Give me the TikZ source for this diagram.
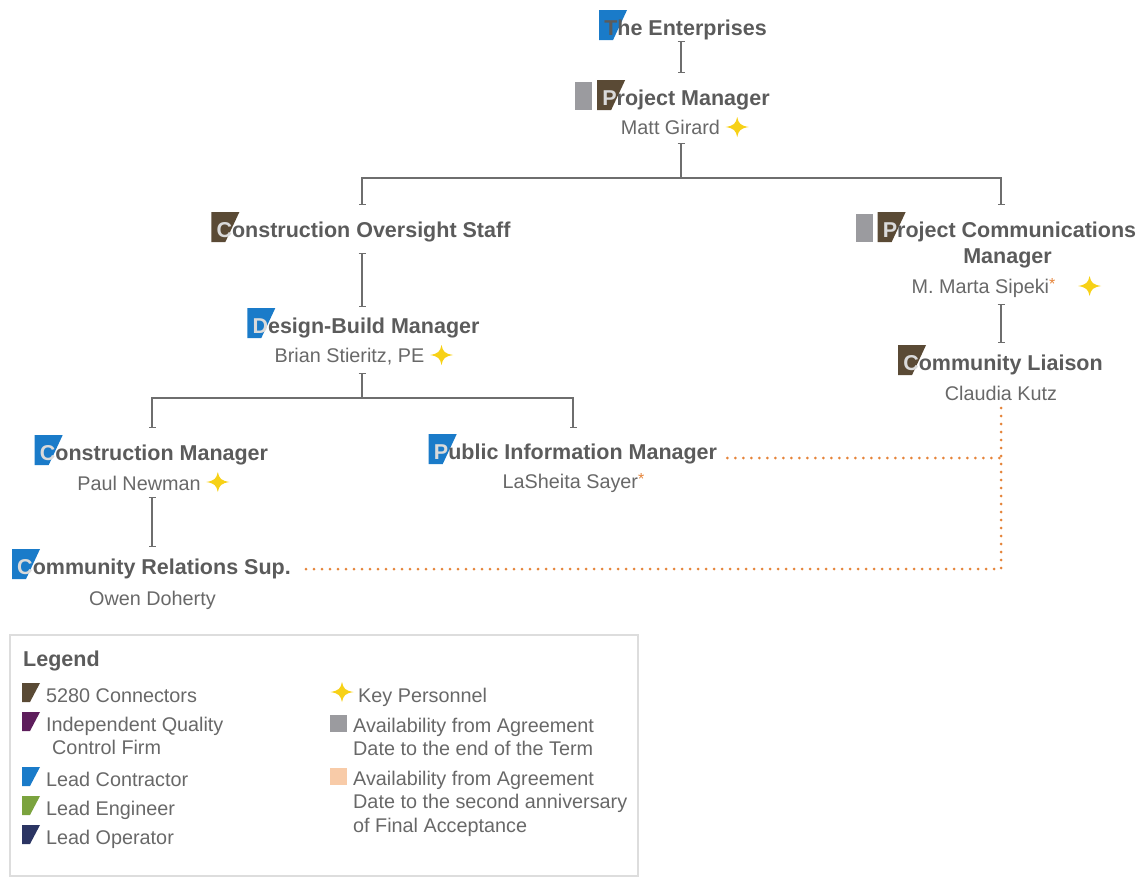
\documentclass[tikz,border=0pt]{standalone}
\usepackage{fontspec}
\setmainfont{Liberation Sans}
\usetikzlibrary{arrows.meta}
\pgfdeclarelayer{bg}
\pgfsetlayers{bg,main}
\definecolor{lcblue}{HTML}{1A7BC9}
\definecolor{cbrown}{HTML}{5A4A35}
\definecolor{availgray}{HTML}{9B9B9F}
\definecolor{iqpurple}{HTML}{5E1E5C}
\definecolor{legreen}{HTML}{7BA33E}
\definecolor{lonavy}{HTML}{2B3563}
\definecolor{peach}{HTML}{F8CBA8}
\definecolor{starcol}{HTML}{F7D117}
\definecolor{dotorange}{HTML}{E5843A}
\definecolor{ttlgray}{HTML}{5B5B5B}
\definecolor{nmgray}{HTML}{686868}
\definecolor{connGray}{HTML}{6E6E6E}
\definecolor{lettercol}{HTML}{DADADA}
\definecolor{boxgray}{HTML}{DDDDDD}
\newcommand\firstl[1]{\textcolor{lettercol}{#1}}
\newcommand\orast{{\color{dotorange}\raisebox{4pt}{\fontsize{16}{16}\selectfont *}}}
\begin{document}
\begin{tikzpicture}[x=1pt,y=-1pt,
  ttl/.style={font=\fontsize{21.5}{24}\selectfont\bfseries, text=ttlgray, inner sep=0, anchor=base},
  nm/.style={font=\fontsize{19.8}{24}\selectfont, text=nmgray, inner sep=0, anchor=base},
  lgtext/.style={font=\fontsize{19.8}{24}\selectfont, text=nmgray, inner sep=0, anchor=base west},
  lgtitle/.style={font=\fontsize{21.5}{24}\selectfont\bfseries, text=ttlgray, inner sep=0, anchor=base west},
  conn/.style={draw=connGray, line width=1.1pt, {Bar[width=7pt]}-{Bar[width=7pt]}},
  connline/.style={draw=connGray, line width=1.1pt},
  dots/.style={draw=dotorange, line width=3pt, dash pattern=on 0pt off 8pt, line cap=round},
  flag/.pic={\fill[pic actions] (-5,-25) -- (23,-25) -- (9,5) -- (-5,5) -- cycle;},
  smallflag/.pic={\fill[pic actions] (0,0) -- (18,0) -- (8,19) -- (0,19) -- cycle;},
  availsq/.pic={\fill[availgray] (-27,-23) rectangle (-10,5);},
  keystar/.pic={\fill[starcol] (0,-10) .. controls (1.4,-3.2) and (3.4,-1.4) .. (11.5,0)
     .. controls (3.4,1.4) and (1.4,3.2) .. (0,10)
     .. controls (-1.4,3.2) and (-3.4,1.4) .. (-11.5,0)
     .. controls (-3.4,-1.4) and (-1.4,-3.2) .. (0,-10) -- cycle;}
]
\useasboundingbox (0,0) rectangle (1146,878);

% ---- title and name nodes ----
\node[ttl] (ent) at (685.5,35) {The Enterprises};
\node[ttl] (pm) at (686,105) {\firstl{P}roject Manager};
\node[nm] (mg) at (670.5,134) {Matt Girard};
\node[ttl] (cos) at (363.5,237) {\firstl{C}onstruction Oversight Staff};
\node[ttl] (dbm) at (366,333) {\firstl{D}esign-Build Manager};
\node[nm] (bs) at (349.5,362) {Brian Stieritz, PE};
\node[ttl] (cm) at (154,460) {\firstl{C}onstruction Manager};
\node[nm] (pn) at (139,490) {Paul Newman};
\node[ttl] (crs) at (154,574) {\firstl{C}ommunity Relations Sup.};
\node[nm] (od) at (152.5,605) {Owen Doherty};
\node[ttl] (pim) at (575.5,459) {\firstl{P}ublic Information Manager};
\node[nm] (ls) at (573.5,488) {LaSheita Sayer\orast};
\node[ttl] (pcm) at (1009.5,237) {\firstl{P}roject Communications};
\node[ttl] (pcm2) at (1007.5,263) {Manager};
\node[nm] (ms) at (983.5,293) {M. Marta Sipeki\orast};
\node[ttl] (cl) at (1003,370) {\firstl{C}ommunity Liaison};
\node[nm] (ck) at (1001,400) {Claudia Kutz};

% ---- icons behind first letters ----
\begin{pgfonlayer}{bg}
\pic[fill=lcblue] at (ent.base west) {flag};
\pic[fill=cbrown] at (pm.base west) {flag};
\pic at (pm.base west) {availsq};
\pic[fill=cbrown] at (cos.base west) {flag};
\pic[fill=lcblue] at (dbm.base west) {flag};
\pic[fill=lcblue] at (cm.base west) {flag};
\pic[fill=lcblue] at (crs.base west) {flag};
\pic[fill=lcblue] at (pim.base west) {flag};
\pic[fill=cbrown] at (pcm.base west) {flag};
\pic at (pcm.base west) {availsq};
\pic[fill=cbrown] at (cl.base west) {flag};
\end{pgfonlayer}

% ---- key personnel stars ----
\pic at ([shift={(17,-7)}]mg.base east) {keystar};
\pic at ([shift={(17,-7)}]bs.base east) {keystar};
\pic at ([shift={(17,-8)}]pn.base east) {keystar};
\pic at ([shift={(34,-7)}]ms.base east) {keystar};

% ---- connector points ----
\coordinate (a1) at (681,41);
\coordinate (a2) at (681,73);
\coordinate (b0) at (681,143);
\coordinate (b1) at (681,178);
\coordinate (b1l) at (362,178);
\coordinate (b1r) at (1001,178);
\coordinate (b2l) at (362,205);
\coordinate (b2r) at (1001,205);
\coordinate (c1) at (362,253);
\coordinate (c2) at (362,307);
\coordinate (e0) at (362,373);
\coordinate (e1) at (362,398);
\coordinate (e1l) at (152,398);
\coordinate (e1r) at (573,398);
\coordinate (e2l) at (152,428);
\coordinate (e2r) at (573,428);
\coordinate (f1) at (152,497);
\coordinate (f2) at (152,547);
\coordinate (g1) at (1001,304);
\coordinate (g2) at (1001,343);

\draw[conn] (a1) -- (a2);
\draw[connline, {Bar[width=7pt]}-] (b0) -- (b1);
\draw[conn] (b2l) -- (b1l) -- (b1r) -- (b2r);
\draw[conn] (c1) -- (c2);
\draw[connline, {Bar[width=7pt]}-] (e0) -- (e1);
\draw[conn] (e2l) -- (e1l) -- (e1r) -- (e2r);
\draw[conn] (f1) -- (f2);
\draw[conn] (g1) -- (g2);

% ---- dotted coordination lines ----
\coordinate (d1) at ([shift={(10,-1)}]pim.base east);
\coordinate (d3) at ([shift={(0,8)}]ck.base);
\coordinate (d5) at ([shift={(12,-5)}]crs.base east);
\coordinate (d2) at (d3 |- d1);
\coordinate (d4) at (d3 |- d5);
\draw[dots] (d1) -- (d2);
\draw[dots] (d3) -- (d4) -- (d5);

% ---- legend ----
\draw[draw=boxgray, line width=1.6pt] (10,635) rectangle (638,876);
\node[lgtitle] (legt) at (23,666) {Legend};
\pic[fill=cbrown] at (22,683) {smallflag};
\node[lgtext] (l1) at (46,702) {5280 Connectors};
\pic[fill=iqpurple] at (22,712) {smallflag};
\node[lgtext] (l2) at (46,731) {Independent Quality};
\node[lgtext] (l2b) at (52,754) {Control Firm};
\pic[fill=lcblue] at (22,767) {smallflag};
\node[lgtext] (l3) at (46,786) {Lead Contractor};
\pic[fill=legreen] at (22,796) {smallflag};
\node[lgtext] (l4) at (46,815) {Lead Engineer};
\pic[fill=lonavy] at (22,825) {smallflag};
\node[lgtext] (l5) at (46,844) {Lead Operator};

\pic at (342,692) {keystar};
\node[lgtext] (r1) at (358,702) {Key Personnel};
\fill[availgray] (330,715) rectangle (347,732);
\node[lgtext] (r2) at (353,732) {Availability from Agreement};
\node[lgtext] (r2b) at (353,755) {Date to the end of the Term};
\fill[peach] (330,768) rectangle (347,785);
\node[lgtext] (r3) at (353,785) {Availability from Agreement};
\node[lgtext] (r3b) at (353,808) {Date to the second anniversary};
\node[lgtext] (r3c) at (353,832) {of Final Acceptance};
\end{tikzpicture}
\end{document}
